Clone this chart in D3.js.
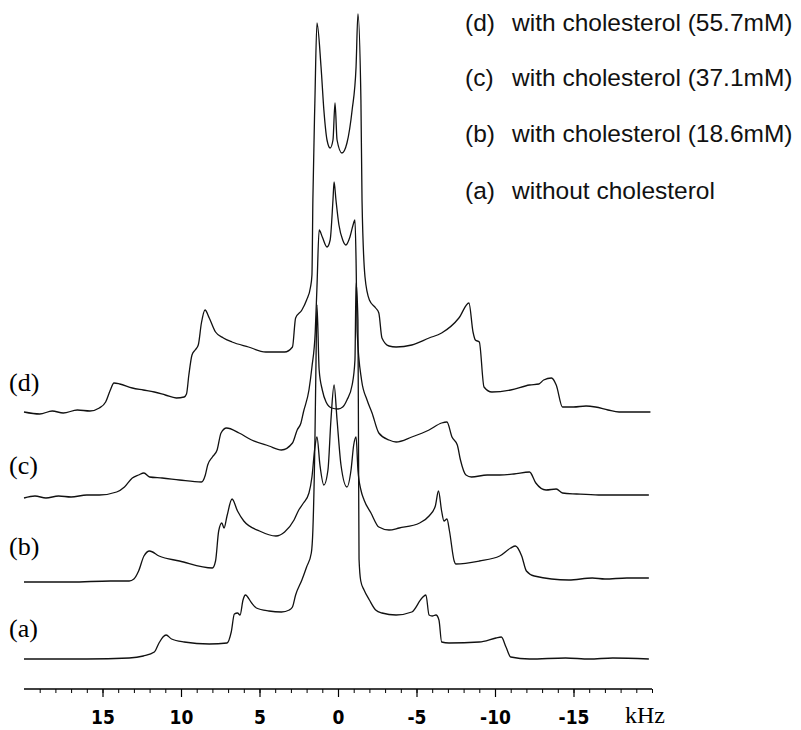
<!DOCTYPE html>
<html>
<head>
<meta charset="utf-8">
<script src="https://cdn.jsdelivr.net/npm/d3@7"></script>
<style>
  body { margin: 0; background: #fff; }
</style>
</head>
<body>
<div id="nmrviz"></div>
<script>
// spectra: [kHz, intensity above own baseline]
const traceA = [[20,0],[16,0],[13.3,1],[12.4,3],[11.7,7],[11.4,16],[11.15,22],[10.95,24],[10.6,20],[9.8,17],[8.2,15],
  [7.07,16],[6.8,27],[6.6,45],[6.4,46],[6.24,44],[6.05,59],[5.9,64],[5.5,56],[5.2,51],[4.4,48],[3.6,47],[3.1,49],[2.9,52],
  [2.7,64],[2.3,79],[2.0,92],[1.7,106],[1.6,129],[1.47,219],[1.4,299],[1.34,354],[1.2,289],[1.0,269],[0.76,257],[0.4,251],
  [0.0,250],[-0.3,252],[-0.57,259],[-0.9,274],[-1.08,299],[-1.15,376],[-1.27,339],[-1.31,200],[-1.34,100],[-1.45,78],
  [-1.66,69],[-2.0,59],[-2.4,49],[-2.8,46],[-3.7,44],[-4.7,47],[-5.35,61],[-5.6,64],[-5.8,44],[-6.0,43],[-6.24,44],
  [-6.43,39],[-6.6,17],[-7.07,16],[-9.0,17],[-10.06,21],[-10.4,22],[-10.7,12],[-11.0,2],[-12.2,0],[-14.5,1],[-16,0],[-17.5,1],[-19.8,0]];

const traceB = [[20,-1],[17,-1],[14.5,0],[13.3,0],[13.0,2],[12.7,10],[12.36,25],[12.0,30],[11.4,25],[10.1,20],[8.0,13],
  [7.8,20],[7.6,50],[7.4,58],[7.26,53],[7.07,65],[6.75,82],[6.4,70],[6.0,60],[5.0,50],[3.95,45],[3.4,49],[2.8,61],[2.5,71],
  [2.2,78],[1.85,88],[1.66,104],[1.47,134],[1.34,144],[1.15,116],[0.9,96],[0.64,111],[0.45,161],[0.25,196],[0.06,161],
  [-0.19,116],[-0.57,94],[-0.83,111],[-1.0,136],[-1.15,144],[-1.27,111],[-1.46,91],[-1.66,81],[-2.1,68],[-2.6,54],
  [-3.25,51],[-3.9,53],[-5.2,58],[-5.8,65],[-6.2,75],[-6.4,90],[-6.6,70],[-6.75,60],[-6.94,62],[-7.1,50],[-7.4,20],
  [-7.5,17],[-9.0,20],[-10.3,25],[-11.0,33],[-11.3,35],[-11.7,25],[-12.0,10],[-12.5,5],[-14.7,1],[-16.2,3],[-17.0,2],[-18.4,3],[-19.8,3]];

const traceC = [[20,-1],[19.3,1],[18.6,-1],[17.8,1],[17.0,0],[16.0,2],[15.2,2],[14.1,5],[13.6,10],[13.1,19],[12.7,22],
  [12.36,24],[12.0,20],[11.2,19],[10.1,17],[8.7,15],[8.45,22],[8.3,32],[8.0,40],[7.7,47],[7.45,64],[7.1,69],[6.3,64],
  [5.5,57],[4.4,51],[3.6,47],[2.9,54],[2.6,67],[2.36,74],[2.2,85],[1.85,107],[1.66,130],[1.45,165],[1.34,210],[1.2,267],
  [1.0,260],[0.7,250],[0.5,257],[0.32,297],[0.25,315],[0.13,297],[-0.06,272],[-0.3,257],[-0.5,252],[-0.76,260],
  [-0.96,272],[-1.08,277],[-1.15,237],[-1.22,165],[-1.5,117],[-1.85,97],[-2.17,84],[-2.6,64],[-3.25,57],[-3.7,55],
  [-4.7,60],[-5.8,67],[-6.6,74],[-6.94,75],[-7.26,60],[-7.6,52],[-7.8,37],[-8.15,22],[-8.5,20],[-9.5,22],[-10.3,22],
  [-11.2,23],[-12.2,25],[-12.6,14],[-13.25,7],[-13.9,8],[-14.3,4],[-15.2,3],[-16.6,2],[-18.0,2],[-19.8,2]];

const traceD = [[20,0],[19,-2],[18.2,1],[17.5,-1],[16.6,2],[15.8,1],[15.2,4],[14.8,10],[14.5,22],[14.27,29],[13.9,28],
  [13.1,24],[12.4,22],[11.7,20],[11.0,17],[10.3,14],[9.8,15],[9.65,18],[9.5,37],[9.3,57],[9.1,62],[8.9,67],[8.7,89],
  [8.47,102],[8.2,94],[7.8,80],[7.3,74],[6.75,70],[5.7,65],[4.6,60],[3.4,60],[2.9,65],[2.7,94],[2.3,102],[2.0,112],
  [1.75,125],[1.66,137],[1.6,212],[1.47,312],[1.34,389],[1.08,345],[0.9,302],[0.7,272],[0.5,264],[0.32,272],[0.19,309],
  [0.06,272],[-0.25,259],[-0.57,269],[-0.9,302],[-1.15,345],[-1.27,398],[-1.46,312],[-1.53,212],[-1.72,135],[-2.0,112],
  [-2.4,104],[-2.6,99],[-2.8,74],[-3.25,66],[-3.7,65],[-4.7,67],[-5.8,74],[-6.6,79],[-7.7,94],[-8.34,109],[-8.6,80],
  [-8.75,72],[-9.0,70],[-9.3,25],[-9.8,20],[-11.0,22],[-12.2,27],[-12.8,28],[-13.1,32],[-13.6,34],[-13.9,27],[-14.3,5],
  [-15.0,5],[-15.8,6],[-16.4,5],[-17.2,2],[-17.9,0],[-18.8,0],[-19.9,0]];

const traces = [traceA, traceB, traceC, traceD];
const traceNames = ["(a)", "(b)", "(c)", "(d)"];
const traceOffsets = [0, 78, 162, 247];   // stacking offset, same units as intensity

const legendKeys = ["(d)", "(c)", "(b)", "(a)"];
const legendTexts = ["with cholesterol (55.7mM)", "with cholesterol (37.1mM)", "with cholesterol (18.6mM)", "without cholesterol"];

const majorTicks = [15, 10, 5, 0, -5, -10, -15];
const minorTicks = d3.range(-20, 20, 1);

const width = 801, height = 730;

const svg = d3.select("#nmrviz")
  .append("svg")
    .attr("width", width)
    .attr("height", height)
    .style("background", "#fff");

// x in kHz, reversed like the NMR plot
const x = d3.scaleLinear()
  .domain([20, -20])
  .range([24, 652]);

// intensity -> px (1 unit = 1 px)
const y = d3.scaleLinear()
  .domain([0, 700])
  .range([659, -41]);

// axis at the bottom, ticks pointing down
const axisY = 689;
svg.append("g")
  .attr("transform", `translate(0, ${axisY})`)
  .call(d3.axisBottom(x).tickValues(minorTicks).tickSize(4).tickFormat(""))
  .call(g => g.select(".domain").attr("stroke-width", 1.6).attr("d", `M${x(20)},0H${x(-20)}`))
  .call(g => g.selectAll(".tick line").attr("stroke-width", 1));

svg.append("g")
  .attr("transform", `translate(0, ${axisY})`)
  .call(d3.axisBottom(x).tickValues(majorTicks).tickSize(8).tickPadding(14).tickFormat(d => d))
  .call(g => g.select(".domain").remove())
  .call(g => g.selectAll(".tick line").attr("stroke-width", 1.2))
  .call(g => g.selectAll(".tick text")
    .attr("fill", "#000")
    .style("font-family", "'Liberation Sans Narrow', 'DejaVu Sans Condensed', Arial, sans-serif")
    .style("font-weight", "bold")
    .style("font-size", "19px"));

svg.append("text")
  .attr("x", 625)
  .attr("y", 723)
  .style("font-family", "'Liberation Serif', 'Times New Roman', serif")
  .style("font-size", "24px")
  .text("kHz");

// the four spectra
const line = d3.line()
  .x(d => x(d[0]))
  .y(d => d[1])
  .curve(d3.curveMonotoneX);

traces.forEach(function(t, i) {
  svg.append("path")
    .datum(t.map(d => [d[0], y(d[1] + traceOffsets[i])]))
    .attr("fill", "none")
    .attr("stroke", "#111")
    .attr("stroke-width", 1.3)
    .attr("stroke-linejoin", "round")
    .attr("d", line);
});

// (a)..(d) labels on the left
const labelY = [637, 555, 474, 391];
traceNames.forEach(function(n, i) {
  svg.append("text")
    .attr("x", 9)
    .attr("y", labelY[i])
    .style("font-family", "'Liberation Serif', 'Times New Roman', serif")
    .style("font-size", "26px")
    .text(n);
});

// legend top right
const legendY = [31, 86, 142, 199];
legendKeys.forEach(function(k, i) {
  const t = svg.append("text")
    .attr("y", legendY[i])
    .style("font-family", "'Liberation Sans', Arial, sans-serif")
    .style("font-size", "24.5px")
    .attr("fill", "#111");
  t.append("tspan").attr("x", 465).text(k);
  t.append("tspan").attr("x", 512).text(legendTexts[i]);
});
</script>
</body>
</html>
